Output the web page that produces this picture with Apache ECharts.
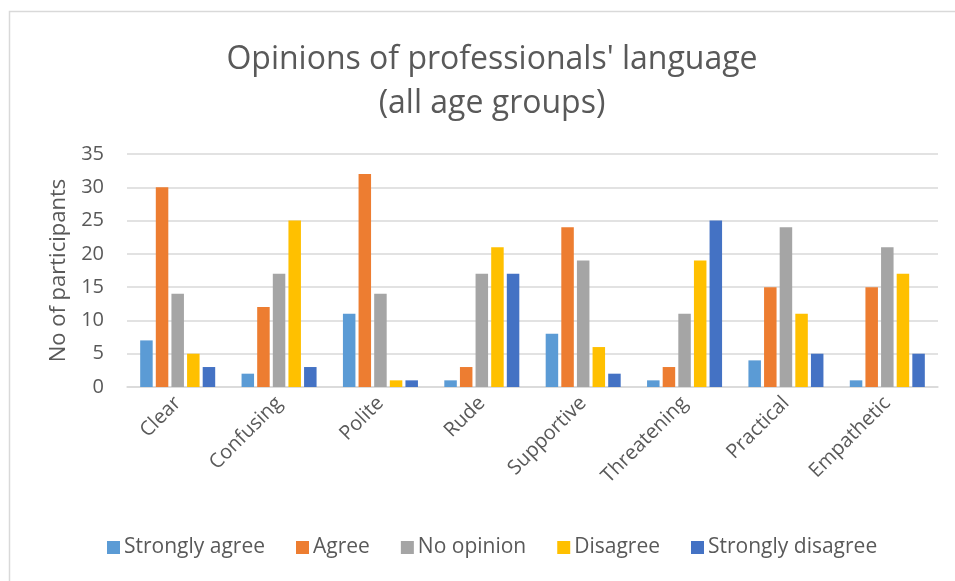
<!DOCTYPE html>
<html>
<head>
<meta charset="utf-8">
<script src="https://cdn.jsdelivr.net/npm/echarts@6/dist/echarts.min.js"></script>
<style>html,body{margin:0;padding:0;background:#fff;}#c{width:955px;height:581px;}</style>
</head>
<body>
<div id="c"></div>
<script>
const categories = ['Clear','Confusing','Polite','Rude','Supportive','Threatening','Practical','Empathetic'];
const seriesNames = ['Strongly agree','Agree','No opinion','Disagree','Strongly disagree'];
const stronglyAgree = [7, 2, 11, 1, 8, 1, 4, 1];
const agree = [30, 12, 32, 3, 24, 3, 15, 15];
const noOpinion = [14, 17, 14, 17, 19, 11, 24, 21];
const disagree = [5, 25, 1, 21, 6, 19, 11, 17];
const stronglyDisagree = [3, 3, 1, 17, 2, 25, 5, 5];
const yTicks = [0, 5, 10, 15, 20, 25, 30, 35];
const colors = ['#5B9BD5','#ED7D31','#A5A5A5','#FFC000','#4472C4'];
const seriesData = [stronglyAgree, agree, noOpinion, disagree, stronglyDisagree];

const font = '"Open Sans", "Noto Sans", sans-serif';
const chart = echarts.init(document.getElementById('c'));
chart.setOption({
  animation: false,
  color: colors,
  textStyle: { fontFamily: font },
  graphic: [{
    type: 'rect', left: 7, top: 9, z: -1,
    shape: { width: 1200, height: 1000 },
    style: { fill: 'none', stroke: '#d9d9d9', lineWidth: 1.5 }
  }],
  title: {
    text: "Opinions of professionals' language\n(all age groups)",
    left: 487, top: 33, textAlign: 'center',
    textStyle: { fontFamily: font, fontSize: 32, fontWeight: 'normal', color: '#595959', lineHeight: 44 }
  },
  legend: {
    data: seriesNames,
    top: 532, left: 102,
    icon: 'rect', itemWidth: 13, itemHeight: 13, itemGap: 31,
    textStyle: { fontFamily: font, fontSize: 21, color: '#595959', padding: [0,0,0,-1] }
  },
  grid: { left: 127, right: 17, top: 154, bottom: 194, containLabel: false },
  xAxis: {
    type: 'category', data: categories,
    axisLine: { lineStyle: { color: '#d9d9d9', width: 1.5 } },
    axisTick: { show: false },
    axisLabel: { rotate: 45, fontFamily: font, fontSize: 20, color: '#595959', margin: 13, interval: 0 }
  },
  yAxis: {
    type: 'value', min: 0, max: 35, interval: 5,
    name: 'No of participants', nameLocation: 'middle', nameGap: 55,
    nameTextStyle: { fontFamily: font, fontSize: 22, color: '#595959' },
    axisLine: { show: false }, axisTick: { show: false },
    axisLabel: { fontFamily: font, fontSize: 20, color: '#595959', margin: 23,
      formatter: v => yTicks.includes(v) ? String(v) : '' },
    splitLine: { lineStyle: { color: '#d9d9d9', width: 1.5 } }
  },
  series: seriesNames.map((n, i) => ({
    name: n, type: 'bar', data: seriesData[i],
    barGap: '25%', barCategoryGap: '26%',
    itemStyle: { color: colors[i] }
  }))
});
</script>
</body>
</html>
